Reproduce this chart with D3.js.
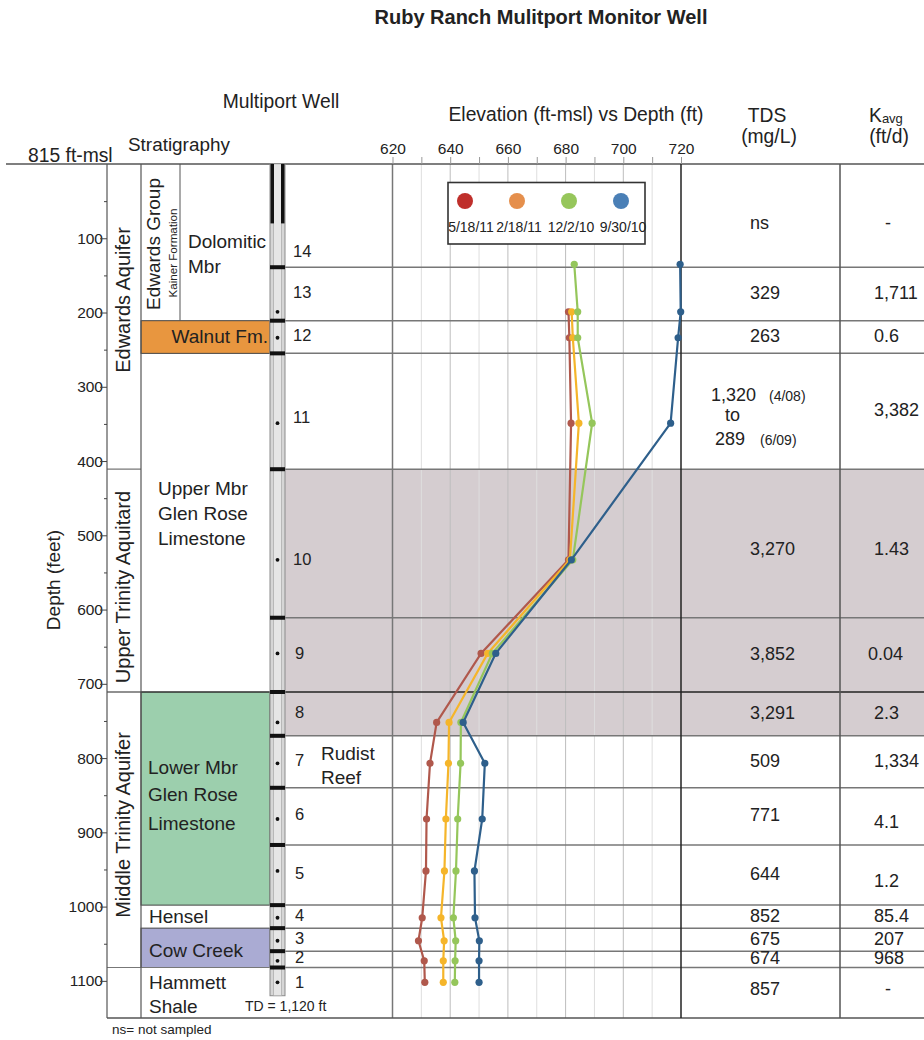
<!DOCTYPE html>
<html>
<head>
<meta charset="utf-8">
<script src="https://cdn.jsdelivr.net/npm/d3@7"></script>
<style>
  body { margin: 0; background: #fff; }
  svg { font-family: "Liberation Sans", Arial, sans-serif; }
</style>
</head>
<body>
<svg id="chart" width="924" height="1040"></svg>
<script>
// ---- data (ports ordered 1..14, deepest first) ----
var ports = [1, 2, 3, 4, 5, 6, 7, 8, 9, 10, 11, 12, 13, 14];
var portDepth = [1102, 1073, 1046, 1015, 952, 882, 807, 752, 659, 533, 349, 234, 199, 135];
var dates = ["5/18/11", "2/18/11", "12/2/10", "9/30/10"];
var may2011 = [631.2, 631.0, 629.0, 630.3, 631.6, 631.8, 633.0, 635.3, 650.7, 681.0, 681.9, 681.3, 681.0, null];
var feb2011 = [637.6, 637.6, 637.9, 636.8, 638.0, 638.5, 639.4, 639.6, 653.0, 681.5, 684.6, 682.5, 682.1, null];
var dec2010 = [641.6, 641.7, 641.9, 641.1, 642.0, 642.6, 643.6, 643.7, 654.6, 682.5, 689.2, 684.2, 684.2, 683.0];
var sep2010 = [650.0, 650.0, 650.1, 648.6, 648.4, 651.1, 652.0, 644.5, 655.8, 682.0, 716.4, 719.0, 719.9, 719.7];
// packer depths (ft) between port intervals, bottom of log and total depth
var packerDepth = [1082, 1060, 1029, 998, 917, 840, 770, 711, 611, 411, 255, 211, 139];
var logBottom = 1150, totalDepth = 1120;
var tdsValues = ["857", "674", "675", "852", "644", "771", "509", "3,291", "3,852", "3,270", "", "263", "329", "ns"];
var kavgValues = ["-", "968", "207", "85.4", "1.2", "4.1", "1,334", "2.3", "0.04", "1.43", "3,382", "0.6", "1,711", "-"];
var depthTicks = [100, 200, 300, 400, 500, 600, 700, 800, 900, 1000, 1100];
var aquitardTop = 411, aquitardBottom = 770;

var lineColors = ["#b0584c", "#f5b52a", "#95c65b", "#2e5f8b"];
var legendColors = ["#bf2f2b", "#e58f4c", "#96c65b", "#4a7fb6"];

var svg = d3.select("#chart");
var y = d3.scaleLinear().domain([0, logBottom]).range([164, 1018]);
var x = d3.scaleLinear().domain([620, 720]).range([392.5, 681]);

var dark = "#555", mid = "#777";

// row intervals for each port (top, bottom)
var edges = [logBottom].concat(packerDepth).concat([0]);
var rows = ports.map(function (p, i) { return { top: edges[i + 1], bottom: edges[i] }; });
function rowMid(i) { return (y(rows[i].top) + y(rows[i].bottom)) / 2; }

// shaded aquitard band
svg.append("rect")
    .attr("x", 285).attr("width", 924 - 285)
    .attr("y", y(aquitardTop)).attr("height", y(aquitardBottom) - y(aquitardTop))
    .attr("fill", "#d5cdd0");

// stratigraphy fills
function band(d0, d1, color, x0, x1) {
    svg.append("rect").attr("x", x0).attr("width", x1 - x0)
        .attr("y", y(d0)).attr("height", y(d1) - y(d0))
        .attr("fill", color).attr("stroke", "#444").attr("stroke-width", 1);
}
band(211, 255, "#e8963f", 141, 270);
band(711, 998, "#9ccfad", 141, 270);
band(1029, 1082, "#aaabd3", 141, 270);

// vertical grid in elevation panel
var grid = svg.append("g");
d3.range(630, 720, 10).forEach(function (v) {
    grid.append("line").attr("x1", x(v)).attr("x2", x(v))
        .attr("y1", y(0)).attr("y2", y(logBottom))
        .attr("stroke", v % 20 === 0 ? "#bdbdbd" : "#dedede").attr("stroke-width", 1);
});
grid.append("line").attr("x1", x(620)).attr("x2", x(620))
    .attr("y1", y(0)).attr("y2", y(logBottom)).attr("stroke", mid).attr("stroke-width", 1.5);

// horizontal port boundaries
function hline(d, x0, x1, color, w) {
    svg.append("line").attr("x1", x0).attr("x2", x1)
        .attr("y1", y(d)).attr("y2", y(d))
        .attr("stroke", color).attr("stroke-width", w);
}
packerDepth.forEach(function (d) {
    hline(d, 285, 924, d === 711 ? "#222" : mid, 1.5);
});
hline(411, 107, 141, mid, 1.2);
hline(711, 107, 270, "#222", 1.2);
hline(1082, 107, 270, mid, 1.2);
hline(logBottom, 107, 924, dark, 1.5);
hline(0, 6, 924, dark, 1.5);

// vertical frame lines
function vline(xp, d0, d1, color, w) {
    svg.append("line").attr("x1", xp).attr("x2", xp)
        .attr("y1", y(d0)).attr("y2", y(d1))
        .attr("stroke", color).attr("stroke-width", w);
}
vline(107, 0, logBottom, dark, 1.2);
vline(141, 0, logBottom, dark, 1.2);
vline(180, 0, 211, dark, 1);
vline(x(720), 0, logBottom, "#222", 1.5);
vline(840, 0, logBottom, dark, 1.5);

// top elevation axis
var topAxis = d3.axisTop(x)
    .tickValues(d3.range(620, 721, 10))
    .tickSize(7).tickPadding(3)
    .tickFormat(function (d) { return d % 20 === 0 ? d : ""; });
var gTop = svg.append("g").attr("transform", "translate(0," + y(0) + ")").call(topAxis);
gTop.select(".domain").remove();
gTop.selectAll(".tick line").attr("stroke", "#999");
gTop.selectAll(".tick text").attr("font-size", 15.5).attr("fill", "#222")
    .attr("font-family", "Liberation Sans, Arial, sans-serif");

// left depth axis
var leftAxis = d3.axisLeft(y)
    .tickValues(d3.range(50, 1101, 50))
    .tickSize(0).tickPadding(4)
    .tickFormat(function (d) { return depthTicks.indexOf(d) >= 0 ? d : ""; });
var gLeft = svg.append("g").attr("transform", "translate(107,0)").call(leftAxis);
gLeft.select(".domain").remove();
gLeft.selectAll(".tick line").remove();
gLeft.selectAll(".tick").append("line")
    .attr("x1", function (d) { return depthTicks.indexOf(d) >= 0 ? -7 : -3; })
    .attr("x2", 0).attr("stroke", "#444");
gLeft.selectAll(".tick text").attr("font-size", 15.5).attr("fill", "#222")
    .attr("font-family", "Liberation Sans, Arial, sans-serif");

// well
var well = svg.append("g");
well.append("rect").attr("x", 270).attr("width", 15)
    .attr("y", y(0)).attr("height", y(totalDepth) - y(0))
    .attr("fill", "#d6d6d6").attr("stroke", "#8c8c8c").attr("stroke-width", 1);
well.append("rect").attr("x", 273.5).attr("width", 8)
    .attr("y", y(0)).attr("height", y(totalDepth) - y(0))
    .attr("fill", "#e6e6e6").attr("stroke", "#a8a8a8").attr("stroke-width", 0.7);
[270.5, 281].forEach(function (xp) {
    well.append("rect").attr("x", xp).attr("width", 3.5)
        .attr("y", y(0)).attr("height", y(80) - y(0)).attr("fill", "#111");
});
well.selectAll(".packer").data(packerDepth).enter().append("rect")
    .attr("x", 270).attr("width", 15)
    .attr("y", function (d) { return y(d) - 2; }).attr("height", 4)
    .attr("fill", "#111");
well.selectAll(".port").data(ports.filter(function (p) { return p < 14; })).enter().append("circle")
    .attr("cx", 277.5).attr("cy", function (p) { return y(portDepth[p - 1]); })
    .attr("r", 1.9).attr("fill", "#111");

// port numbers
var portOverride = { 1: 988, 10: 565, 11: 423, 14: 257 };
svg.selectAll(".portnum").data(ports).enter().append("text")
    .attr("x", function (p) { return p >= 10 ? 293 : 295; })
    .attr("y", function (p, i) { return portOverride[p] || rowMid(i) + 4; })
    .attr("font-size", 16.5).attr("fill", "#222")
    .text(function (p) { return p; });

// water level series
var series = [may2011, feb2011, dec2010, sep2010];
var line = d3.line()
    .defined(function (d) { return d.v != null; })
    .x(function (d) { return x(d.v); })
    .y(function (d) { return y(d.depth); });
series.forEach(function (vals, s) {
    var pts = vals.map(function (v, i) { return { v: v, depth: portDepth[i] }; });
    var g = svg.append("g");
    g.append("path").datum(pts).attr("d", line)
        .attr("fill", "none").attr("stroke", lineColors[s]).attr("stroke-width", 2.2);
    g.selectAll("circle").data(pts.filter(function (d) { return d.v != null; })).enter()
        .append("circle")
        .attr("cx", function (d) { return x(d.v); })
        .attr("cy", function (d) { return y(d.depth); })
        .attr("r", 3.6).attr("fill", lineColors[s]);
});

// legend
var lg = svg.append("g");
lg.append("rect").attr("x", 448).attr("y", 182.5).attr("width", 197).attr("height", 61.5)
    .attr("fill", "#fff").attr("stroke", "#333").attr("stroke-width", 1.6);
var legX = d3.scalePoint().domain(dates).range([465, 621]);
dates.forEach(function (dt, i) {
    lg.append("circle").attr("cx", legX(dt)).attr("cy", 201).attr("r", 8)
        .attr("fill", legendColors[i]);
    lg.append("text").attr("x", legX(dt) + (i === 0 ? 6 : 2)).attr("y", 232).attr("text-anchor", "middle")
        .attr("font-size", 14).attr("fill", "#222").text(dt);
});

// TDS and K columns
var tg = svg.append("g").attr("font-size", 18).attr("fill", "#222");
tdsValues.forEach(function (t, i) {
    if (!t) return;
    var yy = rowMid(i) + 5;
    if (i === 9) yy += 7;
    if (i === 0) yy -= 3;
    if (i === 13) yy += 8;
    tg.append("text").attr("x", 750).attr("y", yy).text(t);
});
kavgValues.forEach(function (t, i) {
    var yy = rowMid(i) + 5;
    if (i === 4 || i === 5) yy += 7;
    if (i === 9) yy += 7;
    if (i === 0) yy -= 3;
    if (i === 13) yy += 8;
    tg.append("text").attr("x", t === "-" ? 885 : (i === 8 ? 868 : 874)).attr("y", yy).text(t);
});
// port 11 TDS range
tg.append("text").attr("x", 711).attr("y", 401).text("1,320");
tg.append("text").attr("x", 769).attr("y", 401).attr("font-size", 14).text("(4/08)");
tg.append("text").attr("x", 725).attr("y", 421).text("to");
tg.append("text").attr("x", 715).attr("y", 445).text("289");
tg.append("text").attr("x", 760).attr("y", 445).attr("font-size", 14).text("(6/09)");

// stratigraphy labels
var st = svg.append("g").attr("fill", "#222").attr("font-size", 19);
function label(txt, xp, yp, size) {
    var t = st.append("text").attr("x", xp).attr("y", yp).text(txt);
    if (size) t.attr("font-size", size);
    return t;
}
label("Dolomitic", 188, 248);
label("Mbr", 188, 273);
label("Walnut Fm.", 268, 343).attr("text-anchor", "end");
label("Upper Mbr", 158, 495);
label("Glen Rose", 158, 520);
label("Limestone", 158, 545);
label("Lower Mbr", 148, 774);
label("Glen Rose", 148, 801);
label("Limestone", 148, 830);
label("Hensel", 149, 923);
label("Cow Creek", 149, 957);
label("Hammett", 149, 989);
label("Shale", 149, 1013);
label("Rudist", 321, 760);
label("Reef", 321, 784);
label("TD = 1,120 ft", 245, 1011, 14);
label("ns= not sampled", 112, 1034, 13.5);

function vtext(txt, xp, yp, size) {
    st.append("text").attr("transform", "translate(" + xp + "," + yp + ") rotate(-90)")
        .attr("text-anchor", "middle").attr("font-size", size).text(txt);
}
vtext("Edwards Aquifer", 130, 300, 20);
vtext("Upper Trinity Aquitard", 130, 587, 20);
vtext("Middle Trinity Aquifer", 130, 825, 20);
vtext("Edwards Group", 160, 244, 19);
vtext("Kainer Formation", 177, 253, 11.6);
vtext("Depth (feet)", 60, 580, 19);

// headers
var hd = svg.append("g").attr("fill", "#222").attr("font-size", 19.3);
hd.append("text").attr("x", 541).attr("y", 24).attr("text-anchor", "middle")
    .attr("font-weight", "bold").attr("font-size", 20).text("Ruby Ranch Mulitport Monitor Well");
hd.append("text").attr("x", 281).attr("y", 108).attr("text-anchor", "middle").text("Multiport Well");
hd.append("text").attr("x", 128).attr("y", 151).attr("font-size", 18.9).text("Stratigraphy");
hd.append("text").attr("x", 28).attr("y", 162).text("815 ft-msl");
hd.append("text").attr("x", 576).attr("y", 121).attr("text-anchor", "middle")
    .text("Elevation (ft-msl) vs Depth (ft)");
hd.append("text").attr("x", 767).attr("y", 122).attr("text-anchor", "middle").text("TDS");
hd.append("text").attr("x", 769).attr("y", 143).attr("text-anchor", "middle").text("(mg/L)");
var k = hd.append("text").attr("x", 869).attr("y", 122);
k.append("tspan").text("K");
k.append("tspan").attr("font-size", 13).attr("dy", 1).text("avg");
hd.append("text").attr("x", 889).attr("y", 143).attr("text-anchor", "middle").text("(ft/d)");
</script>
</body>
</html>
